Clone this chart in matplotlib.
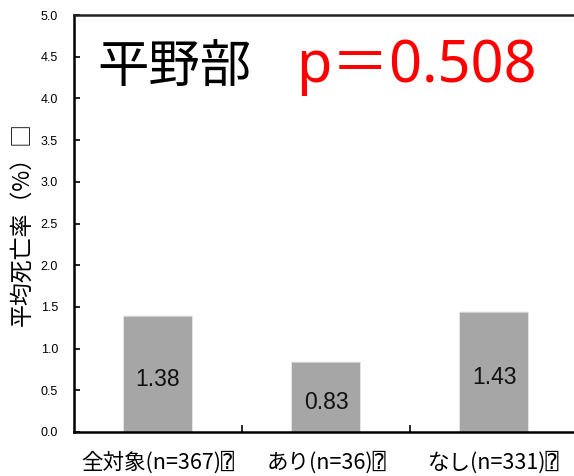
import matplotlib
matplotlib.use("Agg")
import matplotlib.pyplot as plt
import numpy as np

categories = ["全対象(n=367)⍰", "あり(n=36)⍰", "なし(n=331)⍰"]
values = [1.38, 0.83, 1.43]
value_labels = ["1.38", "0.83", "1.43"]
yticks = [0.0, 0.5, 1.0, 1.5, 2.0, 2.5, 3.0, 3.5, 4.0, 4.5, 5.0]
title_text = "平野部"
p_text = "p＝0.508"
ylabel_text = "平均死亡率（%）□"

cjk = ["Noto Sans CJK JP", "DejaVu Sans", "DejaVu Sans Mono"]

fig = plt.figure(figsize=(5.74, 4.76), dpi=100)
ax = fig.add_axes([74 / 574, 44 / 476, 504 / 574, 417 / 476])

x = np.arange(len(categories))
bw = 0.405
# soft halo around each bar
for k, a in zip([3, 2, 1], [0.12, 0.2, 0.3]):
    ax.bar(x, np.array(values) + k * 0.006, width=bw + k * 0.004,
           color="#a6a6a6", alpha=a, linewidth=0, zorder=1)
ax.bar(x, values, width=bw - 0.004, color="#a6a6a6", linewidth=0, zorder=2)

for xi, v, lab in zip(x, values, value_labels):
    ax.text(xi, v / 2 - 0.065, lab, ha="center", va="center", fontsize=16.5,
            family="Liberation Sans", color="#111111", zorder=3)

ax.set_xlim(-0.5, 2.5)
ax.set_ylim(0, 5.0)
ax.set_yticks(yticks)
ax.set_yticklabels([f"{t:.1f}" for t in yticks], family="Liberation Sans", fontsize=9)
ax.tick_params(axis="y", direction="in", length=4, width=1.2, pad=11.5)

ax.set_xticks(x)
ax.set_xticklabels(categories, family=cjk, fontsize=15.5)
ax.set_xticks([0.5, 1.5], minor=True)
ax.tick_params(axis="x", which="major", length=0, pad=14)
ax.tick_params(axis="x", which="minor", direction="in", length=5, width=1.2)

for s in ["left", "bottom"]:
    ax.spines[s].set_linewidth(1.8)
ax.spines["top"].set_linewidth(1.8)
ax.spines["top"].set_color("#222222")
ax.spines["right"].set_visible(False)

ax.set_ylabel(ylabel_text, family=cjk, fontsize=16.5, labelpad=4)
ax.yaxis.set_label_coords(-0.08, 0.5)

fig.text(97 / 574, 1 - 68 / 476, title_text, family=cjk, fontsize=37,
         ha="left", va="center", color="black")
fig.text(296 / 574, 1 - 66 / 476, p_text, family=["Noto Sans", "Noto Sans CJK JP"],
         fontsize=41.5, ha="left", va="center", color="#ff0000")

fig.savefig("out.png", dpi=100)
